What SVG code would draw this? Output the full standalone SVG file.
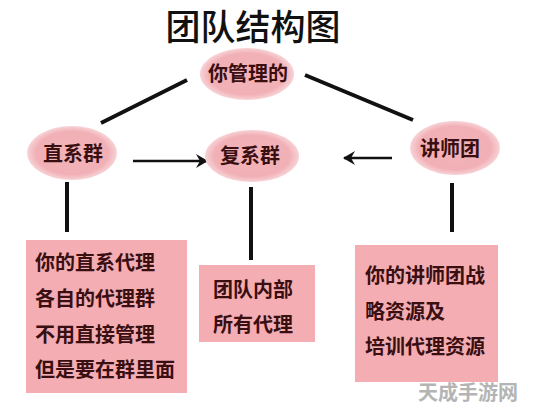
<svg xmlns="http://www.w3.org/2000/svg" width="549" height="411" viewBox="0 0 549 411">
<defs>
<radialGradient id="eg" cx="50%" cy="50%" r="50%">
<stop offset="0" stop-color="#f4b3b8"/>
<stop offset="0.8" stop-color="#f1b0b6"/>
<stop offset="1" stop-color="#f7d3d6"/>
</radialGradient>
<marker id="ah" viewBox="0 0 12 14" refX="11" refY="7" markerWidth="12" markerHeight="14" markerUnits="userSpaceOnUse" orient="auto">
<path d="M0,0 L12,7 L0,14 L4,7 Z" fill="#111"/>
</marker>
</defs>
<style>
.t{font-family:"Noto Sans CJK SC","Noto Sans",sans-serif;fill:#3a0f12;font-weight:bold;font-size:20px}
.e{fill:url(#eg)}
.b{fill:#f4adb3}
.ln{stroke:#111;stroke-width:4;fill:none}
.ar{stroke:#111;stroke-width:2.5;fill:none}
</style>
<rect width="549" height="411" fill="#fff"/>
<text x="253" y="40" text-anchor="middle" style="font-family:'Noto Sans CJK SC',sans-serif;font-weight:500;font-size:35px;fill:#111">团队结构图</text>
<g id="connectors">
<line class="ln" x1="187" y1="80" x2="101" y2="123"/>
<line class="ln" x1="305" y1="75" x2="413" y2="120"/>
<line class="ar" x1="133" y1="161" x2="207" y2="161" marker-end="url(#ah)"/>
<line class="ar" x1="392" y1="158" x2="344" y2="158" marker-end="url(#ah)"/>
<line class="ln" x1="67" y1="182" x2="67" y2="232"/>
<line class="ln" x1="251" y1="187" x2="251" y2="260"/>
<line class="ln" x1="452" y1="183" x2="452" y2="232"/>
</g>
<g id="node-manage">
<ellipse class="e" cx="247" cy="74" rx="47" ry="26"/>
<text class="t" x="248" y="81" text-anchor="middle">你管理的</text>
</g>
<g id="node-direct">
<ellipse class="e" cx="72" cy="153" rx="45" ry="27"/>
<text class="t" x="73" y="161" text-anchor="middle">直系群</text>
</g>
<g id="node-complex">
<ellipse class="e" cx="252" cy="156" rx="47" ry="26"/>
<text class="t" x="250" y="163" text-anchor="middle">复系群</text>
</g>
<g id="node-lecturer">
<ellipse class="e" cx="455" cy="148" rx="45" ry="27"/>
<text class="t" x="450" y="156" text-anchor="middle">讲师团</text>
</g>
<g id="box-direct">
<rect class="b" x="26" y="240" width="161" height="153"/>
<text class="t" x="35" y="270">你的直系代理</text>
<text class="t" x="35" y="306">各自的代理群</text>
<text class="t" x="35" y="342">不用直接管理</text>
<text class="t" x="35" y="377">但是要在群里面</text>
</g>
<g id="box-complex">
<rect class="b" x="199" y="265" width="116" height="77"/>
<text class="t" x="213" y="297">团队内部</text>
<text class="t" x="213" y="332">所有代理</text>
</g>
<g id="box-lecturer">
<rect class="b" x="355" y="245" width="143" height="137"/>
<text class="t" x="365" y="283">你的讲师团战</text>
<text class="t" x="365" y="319">略资源及</text>
<text class="t" x="365" y="354">培训代理资源</text>
</g>
<text x="418" y="400" style="font-family:'Noto Sans CJK SC',sans-serif;font-weight:bold;font-size:20px;fill:#b4b4b4">天成手游网</text>
</svg>
